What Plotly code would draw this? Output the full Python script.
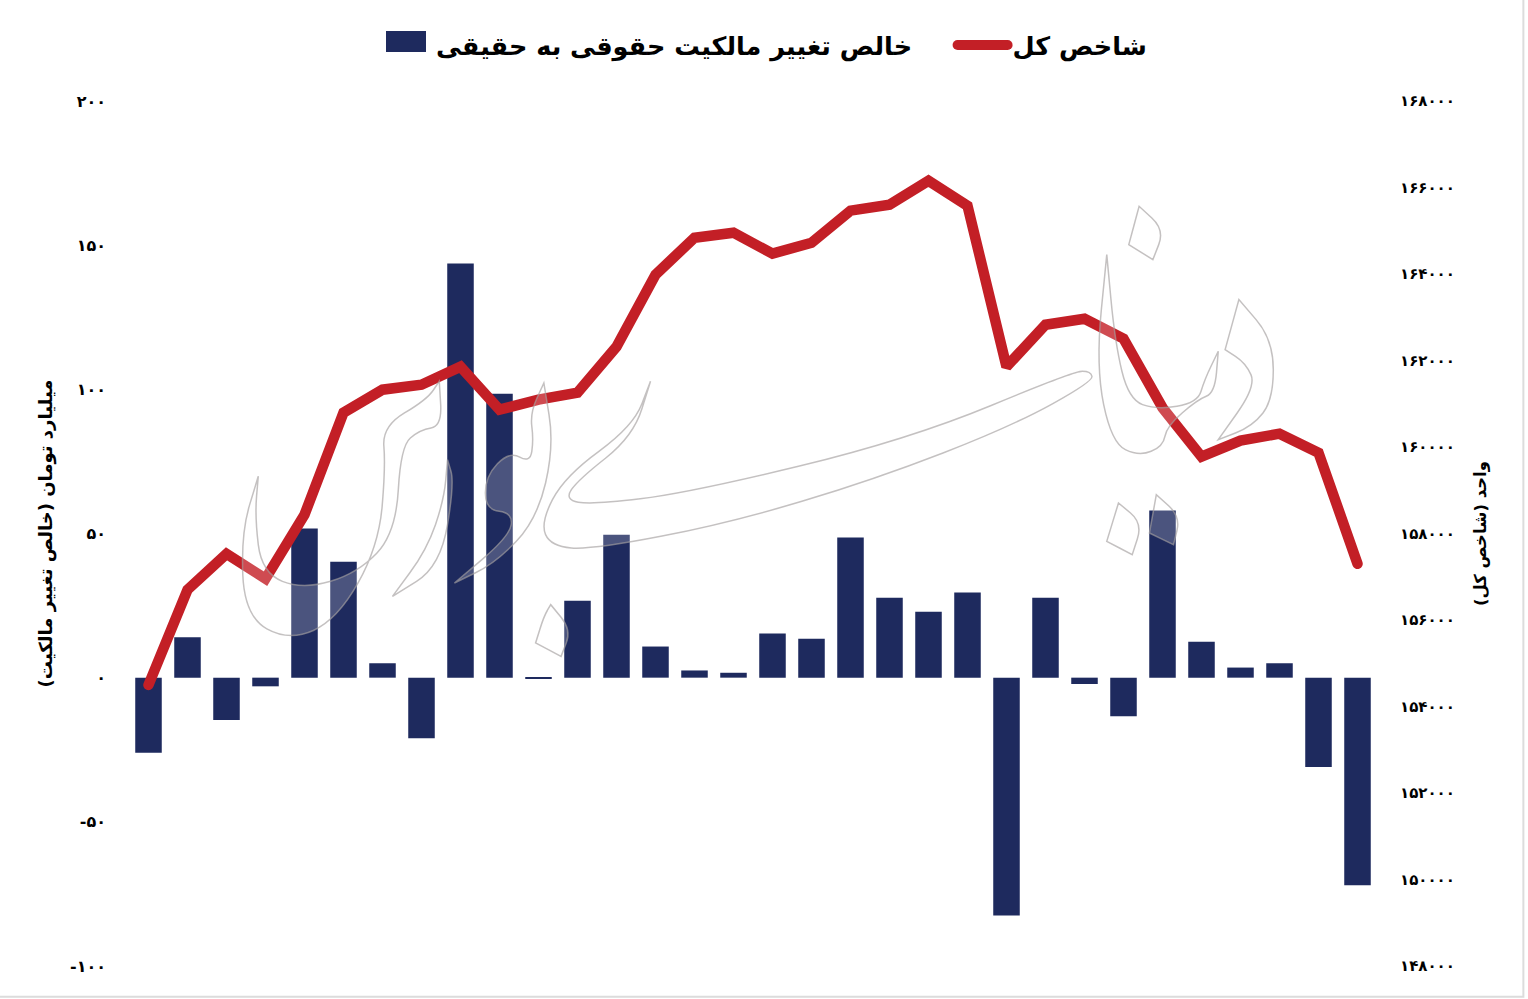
import plotly.graph_objects as go

positions = list(range(1, 33))
net_change = [-26, 14, -14.7, -3, 51.7, 40.2, 5, -21, 143.6, 98.5, -0.4, 26.7, 49.6, 10.8, 2.5, 1.7,
              15.3, 13.5, 48.6, 27.7, 22.9, 29.5, -82.5, 27.7, -2.2, -13.4, 58, 12.5, 3.5, 5, -31, -72]
index_values = [154500, 156700, 157530, 156955, 158435, 160793, 161325, 161440, 161857, 160863, 161094,
                161256, 162319, 163984, 164839, 164955, 164470, 164724, 165464, 165602, 166157, 165579,
                161857, 162828, 162966, 162504, 160909, 159776, 160146, 160308, 159869, 157302]
left_ticks = [-100, -50, 0, 50, 100, 150, 200]
left_labels = ["-۱۰۰", "-۵۰", "۰", "۵۰", "۱۰۰", "۱۵۰", "۲۰۰"]
right_ticks = [148000, 150000, 152000, 154000, 156000, 158000, 160000, 162000, 164000, 166000, 168000]
right_labels = ["۱۴۸۰۰۰", "۱۵۰۰۰۰", "۱۵۲۰۰۰", "۱۵۴۰۰۰", "۱۵۶۰۰۰", "۱۵۸۰۰۰", "۱۶۰۰۰۰", "۱۶۲۰۰۰", "۱۶۴۰۰۰", "۱۶۶۰۰۰", "۱۶۸۰۰۰"]
bar_name = "خالص تغییر مالکیت حقوقی به حقیقی" + "\u00a0" * 4
line_name = "شاخص کل"
left_title = "میلیارد تومان (خالص تغییر مالکیت)"
right_title = "واحد (شاخص کل)"

W, H = 1528, 999
L, R, T, B = 128.5, 1377.5, 101.4, 966.3
FONT = "DejaVu Sans"

fig = go.Figure()
fig.add_trace(go.Bar(x=positions, y=net_change, name=bar_name, marker=dict(color="#1e2a5e", line_width=0), yaxis="y"))
fig.add_trace(go.Scatter(x=positions, y=index_values, name=line_name, mode="lines", yaxis="y2",
                         line=dict(color="#c31f26", width=10.5)))

# embossed background logo, traced in zoomed-crop coordinates (a repeated point makes a sharp tip)
def z(p):
    return (220 + p[0] / 1.452, 200 + p[1] / 3)

logo = [
    [(625,545),(625,545),(600,710),(520,840),(500,900),(540,915),(680,880),(1000,720),(1240,515),(1265,515),(1268,545),(1150,680),(950,840),(740,970),(540,1050),(480,1040),(465,970),(500,830),(600,680)],
    [(55,830),(55,830),(30,1000),(35,1250),(100,1325),(170,1260),(230,1040),(240,800),(235,680),(300,600),(318,545),(318,545),(322,680),(290,690),(262,740),(255,1000),(200,1120),(120,1170),(60,1120),(50,950)],
    [(470,550),(470,550),(485,740),(460,960),(400,1090),(340,1150),(340,1150),(420,1010),(425,940),(385,930),(385,830),(420,755),(450,790),(455,720),(450,640)],
    [(330,780),(330,780),(340,850),(320,1100),(250,1190),(250,1190),(300,1050),(325,900)],
    [(480,1215),(480,1215),(510,1290),(495,1370),(495,1370),(458,1330),(458,1330),(470,1250)],
    [(1335,20),(1335,20),(1372,90),(1355,180),(1355,180),(1320,135),(1320,135)],
    [(1305,910),(1305,910),(1340,970),(1325,1065),(1325,1065),(1288,1025),(1288,1025)],
    [(1360,885),(1360,885),(1395,950),(1385,1035),(1385,1035),(1350,1000),(1350,1000)],
    [(1288,165),(1288,165),(1300,430),(1320,600),(1360,630),(1420,610),(1430,540),(1450,455),(1450,455),(1445,580),(1420,600),(1375,680),(1370,740),(1335,770),(1295,730),(1272,500)],
    [(1480,300),(1480,300),(1530,420),(1530,600),(1500,680),(1450,720),(1450,720),(1505,560),(1490,490),(1460,450),(1460,450)],
]

def to_paper(x, y):
    return (x - L) / (R - L), (B - y) / (B - T)

def smooth(points):
    pts = [to_paper(*z(p)) for p in points]
    n = len(pts)
    mid = lambda a, b: ((a[0] + b[0]) / 2, (a[1] + b[1]) / 2)
    s = mid(pts[-1], pts[0])
    d = f"M{s[0]:.5f},{s[1]:.5f}"
    for i in range(n):
        m = mid(pts[i], pts[(i + 1) % n])
        d += f" Q{pts[i][0]:.5f},{pts[i][1]:.5f} {m[0]:.5f},{m[1]:.5f}"
    return d + " Z"

shapes = [dict(type="path", xref="paper", yref="paper", path=smooth(p), layer="above",
               fillcolor="rgba(255,255,255,0.2)", line=dict(color="rgba(165,160,160,0.65)", width=1.5)) for p in logo]
x0, y0 = to_paper(-5, 997)
x1, y1 = to_paper(1524, -5)
shapes.append(dict(type="rect", xref="paper", yref="paper", x0=x0, y0=y0, x1=x1, y1=y1, layer="below",
                   line=dict(color="#dcdcdc", width=2), fillcolor="rgba(0,0,0,0)"))

fig.update_layout(
    width=W, height=H, autosize=False,
    margin=dict(l=L, r=W - R, t=T, b=H - B, pad=0),
    paper_bgcolor="white", plot_bgcolor="white",
    font=dict(family=FONT, color="black"),
    bargap=0.32,
    shapes=shapes,
    legend=dict(orientation="h", x=0.5, xanchor="center", xref="container", y=0.978, yref="container", yanchor="top",
                font=dict(family=FONT, size=25.5, weight=700, color="black"), itemwidth=50, traceorder="normal"),
    xaxis=dict(range=[0.5, 32.5], showgrid=False, zeroline=False, showticklabels=False, ticks="", showline=False),
    yaxis=dict(range=[-100, 200], tickvals=left_ticks, ticktext=left_labels, showgrid=False, zeroline=False,
               showline=False, ticks="", ticklabelstandoff=22, tickfont=dict(family=FONT, size=16, weight=700),
               title=dict(text=left_title, font=dict(family=FONT, size=18, weight=700), standoff=12)),
    yaxis2=dict(range=[148000, 168000], overlaying="y", side="right", tickvals=right_ticks, ticktext=right_labels,
                showgrid=False, zeroline=False, showline=False, ticks="", ticklabelstandoff=22,
                tickfont=dict(family=FONT, size=15, weight=700),
                title=dict(text=right_title, font=dict(family=FONT, size=16.5, weight=700), standoff=20)),
)

post = """
document.body.style.margin='0';document.body.style.overflow='hidden';
document.querySelectorAll('.scatterlayer .js-line, .legendlines path').forEach(function(p){p.style.strokeLinecap='round';});
document.querySelectorAll('.legend .legendpoints path').forEach(function(p){p.setAttribute('d','M20,7H-20V-14H20Z');});
"""
fig.write_html("out.html", post_script=post, config={"displayModeBar": False})
